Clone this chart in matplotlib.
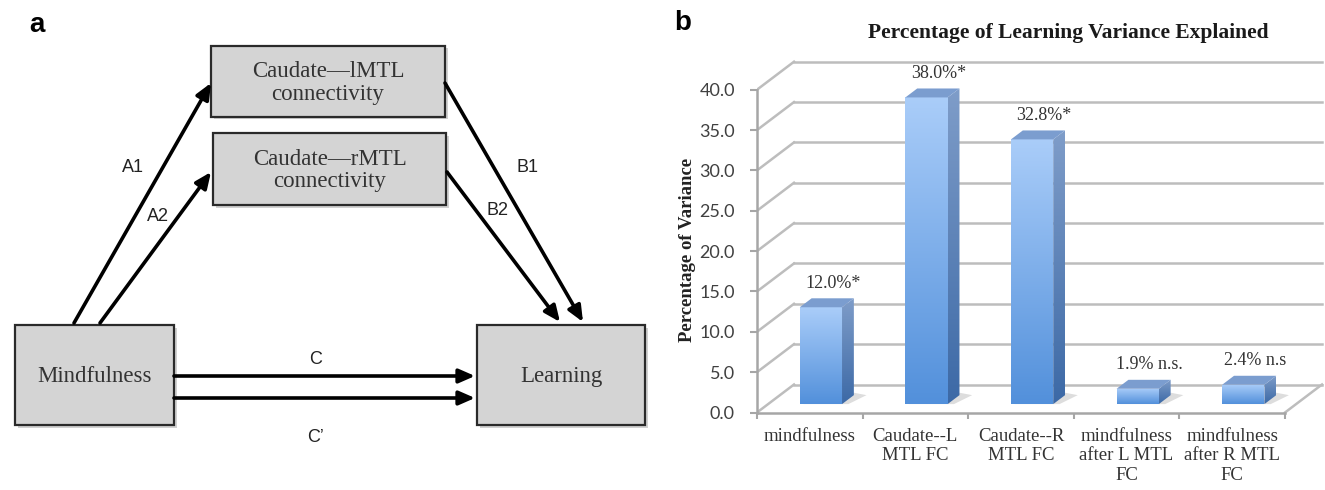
import numpy as np
import matplotlib
matplotlib.use("Agg")
import matplotlib.pyplot as plt
from matplotlib.patches import Rectangle, Polygon, FancyArrowPatch
from matplotlib.colors import LinearSegmentedColormap

# ---- panel b data ----
categories = ["mindfulness", "Caudate--L\nMTL FC", "Caudate--R\nMTL FC",
              "mindfulness\nafter L MTL\nFC", "mindfulness\nafter R MTL\nFC"]
variance = [12.0, 38.0, 32.8, 1.9, 2.4]
bar_labels = ["12.0%*", "38.0%*", "32.8%*", "1.9% n.s.", "2.4% n.s"]
y_ticks = [0, 5, 10, 15, 20, 25, 30, 35, 40]

# ---- panel a diagram text ----
node_names = ["Caudate\u2014lMTL\nconnectivity", "Caudate\u2014rMTL\nconnectivity",
              "Mindfulness", "Learning"]
path_names = ["A1", "A2", "B1", "B2", "C", "C\u2019"]

SERIF = "Liberation Serif"
SANS = "Liberation Sans"
W, H = 1325, 490

fig = plt.figure(figsize=(W / 100, H / 100), dpi=100)

# ================= panel a : mediation diagram =================
ax_a = fig.add_axes([0, 0, 662.5 / W, 1])
ax_a.set_xlim(0, 662.5)
ax_a.set_ylim(H, 0)
ax_a.axis("off")

boxes = [(211, 46, 234, 71), (213, 133, 233, 72), (15, 325, 159, 100), (477, 325, 168, 100)]
for (x, y, w, h), name in zip(boxes, node_names):
    ax_a.add_patch(Rectangle((x + 2.5, y + 2.5), w, h, facecolor="#9a9a9a",
                             edgecolor="none", alpha=0.45, zorder=1))
    ax_a.add_patch(Rectangle((x, y), w, h, facecolor="#d4d4d4",
                             edgecolor="#2a2a2a", lw=1.6, zorder=2))
    ax_a.text(x + w / 2, y + h / 2 + 1.5, name, ha="center", va="center",
              family=SERIF, fontsize=16.5, color="#333333", linespacing=1.12, zorder=3)

arrows = [((74, 323), (211, 83)), ((100, 323), (211, 172)),
          ((445, 83), (583, 322)), ((447, 172), (560, 322)),
          ((174, 376), (475, 376)), ((174, 398), (475, 398))]
for p0, p1 in arrows:
    ax_a.add_patch(FancyArrowPatch(p0, p1, arrowstyle="-|>,head_length=0.8,head_width=0.35",
                                   mutation_scale=12, lw=2.6, color="black",
                                   shrinkA=0, shrinkB=0, zorder=4))

label_pos = [(133, 167), (158, 216), (528, 167), (497, 210), (316, 359), (316, 437)]
for (x, y), s in zip(label_pos, path_names):
    ax_a.text(x, y, s, ha="center", va="center", family=SANS, fontsize=13, color="#222222")

fig.text(37 / W, 1 - 25 / H, "a", ha="center", va="center", family=SANS,
         fontsize=20, fontweight="bold")

# ================= panel b : pseudo-3D column chart =================
cat_px = 105.6          # pixels per category
unit_px = 8.07          # pixels per percentage point
x0_px, y0_px = 757, 412.5
right_px, top_px = 1325, 40
ax = fig.add_axes([x0_px / W, (H - y0_px) / H, (right_px - x0_px) / W, (y0_px - top_px) / H])
ax.set_facecolor("none")

n = len(variance)
depth = np.array([37 / cat_px, 28 / unit_px])    # floor depth vector in data units
d_front, d_back = 0.30, 0.62
bar_w = 0.40
grid_c = "#bdbdbd"

# back wall, side wall and floor
for v in y_ticks:
    ax.plot([depth[0], n + depth[0]], [v + depth[1]] * 2, color=grid_c, lw=1.8, zorder=1)
    ax.plot([0, depth[0]], [v, v + depth[1]], color=grid_c, lw=1.8, zorder=1)
ax.plot([n, n + depth[0]], [0, depth[1]], color=grid_c, lw=1.8, zorder=1)

front_cmap = LinearSegmentedColormap.from_list("front", ["#5290db", "#aacdf9"])
side_cmap = LinearSegmentedColormap.from_list("side", ["#3c69a6", "#7f9dc9"])
grad = np.linspace(0, 1, 256)[:, None]

for i, v in enumerate(variance):
    sx, sy = depth * d_front
    bx, by = depth * (d_back - d_front)
    xl = i + 0.5 - bar_w / 2 + sx
    xr = xl + bar_w
    yb = sy
    yt = yb + v

    # soft base shadow
    ax.add_patch(Polygon([(xl + 0.03, yb), (xr + 0.06, yb), (xr + bx + 0.12, yb + by),
                          (xr + bx, yb + by + 0.3), (xr, yb + 0.5)],
                         closed=True, facecolor="#9e9e9e", edgecolor="none", alpha=0.35, zorder=2))

    front = Polygon([(xl, yb), (xr, yb), (xr, yt), (xl, yt)], closed=True,
                    facecolor="none", edgecolor="none", transform=ax.transData)
    im = ax.imshow(grad, cmap=front_cmap, origin="lower", aspect="auto",
                   extent=(xl, xr, yb, yt), zorder=3)
    im.set_clip_path(front)

    side_pts = [(xr, yb), (xr + bx, yb + by), (xr + bx, yt + by), (xr, yt)]
    side = Polygon(side_pts, closed=True, facecolor="none", edgecolor="none",
                   transform=ax.transData)
    im = ax.imshow(grad, cmap=side_cmap, origin="lower", aspect="auto",
                   extent=(xr, xr + bx, yb, yt + by), zorder=3)
    im.set_clip_path(side)

    ax.add_patch(Polygon([(xl, yt), (xr, yt), (xr + bx, yt + by), (xl + bx, yt + by)],
                         closed=True, facecolor="#7b9dcf", edgecolor="none", zorder=4))

    ax.text(i + 0.5 + depth[0] * d_back, yt + by + 15 / unit_px, bar_labels[i],
            ha="center", va="center", family=SERIF, fontsize=13, color="#333333")

# front axes
for side_name in ["top", "right"]:
    ax.spines[side_name].set_visible(False)
ax.spines["left"].set_bounds(0, 40)
ax.spines["bottom"].set_bounds(0, n)
for side_name in ["left", "bottom"]:
    ax.spines[side_name].set_color("#a6a6a6")
    ax.spines[side_name].set_linewidth(1.8)

ax.set_yticks(y_ticks)
ax.set_yticklabels([f"{t:.1f}" for t in y_ticks])
ax.tick_params(axis="y", length=5, width=1.5, color="#a6a6a6", pad=11,
               labelsize=13, labelcolor="#404040")
for lab in ax.get_yticklabels():
    lab.set_family("Lato")

ax.set_xticks(np.arange(n + 1))
ax.set_xticklabels([])
ax.set_xticks(np.arange(n) + 0.5, minor=True)
ax.set_xticklabels(categories, minor=True, family=SERIF, fontsize=13.5,
                   color="#333333", linespacing=1.2)
ax.tick_params(axis="x", which="major", length=4, width=1.5, color="#a6a6a6")
ax.tick_params(axis="x", which="minor", length=0, pad=11)

ax.set_xlim(0, (right_px - x0_px) / cat_px)
ax.set_ylim(0, (y0_px - top_px) / unit_px)

fig.text(688 / W, 1 - 250 / H, "Percentage of Variance", rotation=90, ha="center",
         va="center", family=SERIF, fontweight="bold", fontsize=13.5, color="#222222")
fig.text(1068 / W, 1 - 33 / H, "Percentage of Learning Variance Explained", ha="center",
         va="center", family=SERIF, fontweight="bold", fontsize=15.5, color="#1a1a1a")
fig.text(683 / W, 1 - 23 / H, "b", ha="center", va="center", family=SANS,
         fontsize=20, fontweight="bold")

fig.savefig("out.png", dpi=100)
